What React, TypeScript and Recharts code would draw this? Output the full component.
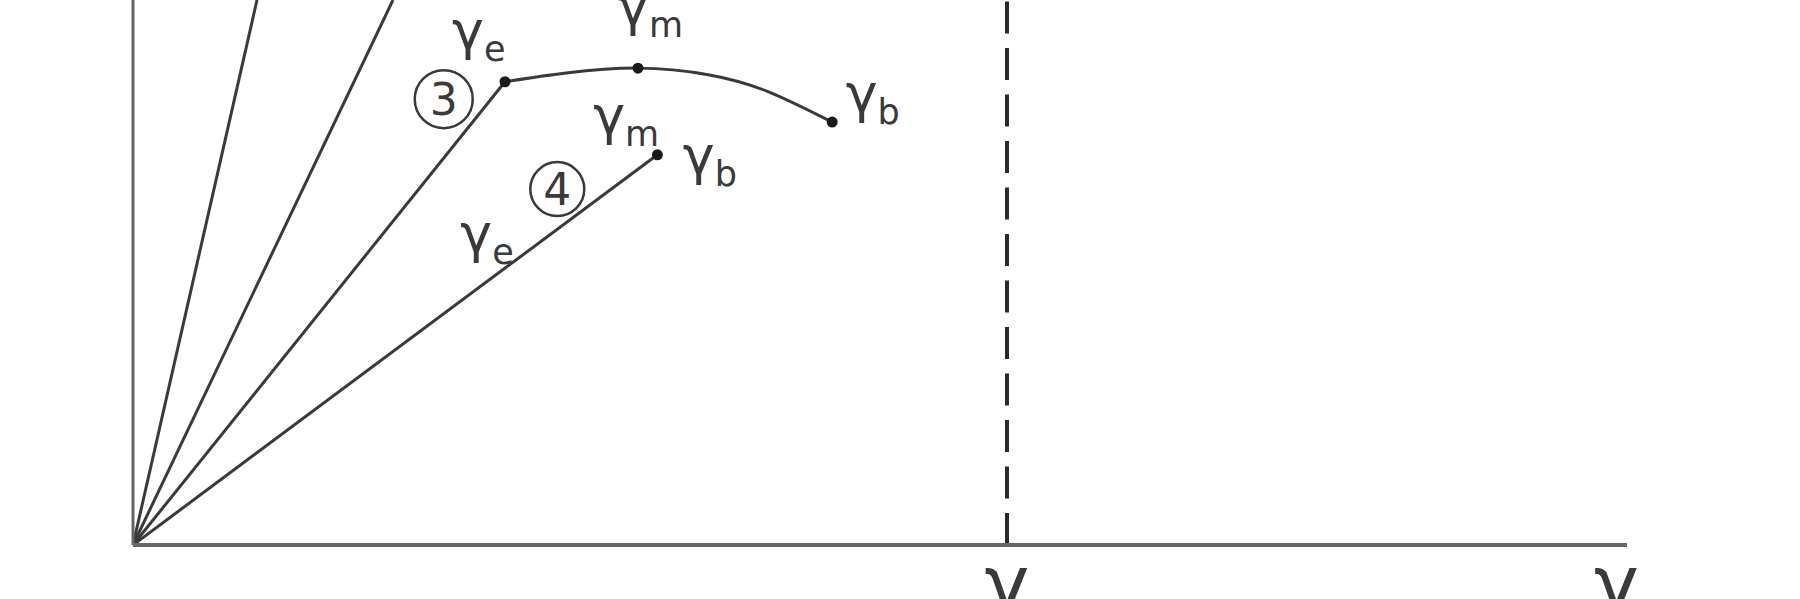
import { LineChart, Line, XAxis, YAxis, ReferenceLine, ReferenceDot } from "recharts";

// strain (x) vs stress (y), both in 0..100 plot units
const ray1 = [
  { x: 0, y: 0 },
  { x: 8.3, y: 100 },
];
const ray2 = [
  { x: 0, y: 0 },
  { x: 17.4, y: 100 },
];
const branch3 = [
  { x: 0, y: 0 },
  { x: 24.9, y: 85.0 },
];
const curve3 = [
  { x: 24.9, y: 85.0, point: "e" },
  { x: 29.0, y: 86.6 },
  { x: 33.8, y: 87.5, point: "m" },
  { x: 38.5, y: 86.3 },
  { x: 42.5, y: 83.2 },
  { x: 46.8, y: 77.6, point: "b" },
];
const branch4 = [
  { x: 0, y: 0 },
  { x: 35.1, y: 71.6, point: "b" },
];

const limitStrain = 58.5;
const axisTicks = [58.5, 99.3];
const axisTickLabels = ["γ", "γ"];

const gammaLabels = [
  { sub: "e", x: 21.35, y: 91.0 },
  { sub: "m", x: 32.4, y: 95.4 },
  { sub: "b", x: 47.7, y: 79.4 },
  { sub: "m", x: 30.8, y: 75.4 },
  { sub: "b", x: 36.8, y: 68.1 },
  { sub: "e", x: 21.9, y: 53.8 },
];
const circledLabels = [
  { n: "3", x: 20.8, y: 81.8, r: 29 },
  { n: "4", x: 28.4, y: 65.3, r: 27 },
];

const INK = "#3a3a3a";
const FONT = "'DejaVu Sans', sans-serif";

const renderDot = (p: any) =>
  p.payload && p.payload.point ? (
    <circle key={`dot-${p.index}`} cx={p.cx} cy={p.cy} r={5.5} fill="#1a1a1a" />
  ) : (
    <g key={`dot-${p.index}`} />
  );

function GammaText({ cx, cy, sub }: { cx: number; cy: number; sub: string }) {
  return (
    <text x={cx} y={cy} fontFamily={FONT} fontSize={54} fill={INK}>
      γ
      <tspan fontSize={35} dy={12}>
        {sub}
      </tspan>
    </text>
  );
}

function Circled({ cx, cy, n, r }: { cx: number; cy: number; n: string; r: number }) {
  return (
    <g>
      <circle cx={cx} cy={cy} r={r} fill="none" stroke={INK} strokeWidth={2.5} />
      <text
        x={cx}
        y={cy + 16}
        textAnchor="middle"
        fontFamily={FONT}
        fontSize={44}
        fill={INK}
      >
        {n}
      </text>
    </g>
  );
}

function AxisGamma(props: any) {
  const { x, y, index } = props;
  return (
    <text x={x} y={y + 57} textAnchor="middle" fontFamily={FONT} fontSize={76} fill={INK}>
      {axisTickLabels[index]}
    </text>
  );
}

export default function App() {
  return (
    <div style={{ position: "absolute", left: 0, top: 0, background: "#fff" }}>
      <LineChart width={1800} height={599} margin={{ top: 0, right: 173, bottom: 0, left: 0 }}>
        <XAxis
          type="number"
          dataKey="x"
          domain={[0, 100]}
          allowDataOverflow
          ticks={axisTicks}
          tick={<AxisGamma />}
          tickLine={false}
          height={54}
          axisLine={{ stroke: "#666", strokeWidth: 4 }}
        />
        <YAxis
          type="number"
          dataKey="y"
          domain={[0, 100]}
          allowDataOverflow
          tick={false}
          tickLine={false}
          width={133}
          axisLine={{ stroke: "#666", strokeWidth: 3 }}
        />
        <ReferenceLine x={limitStrain} stroke="#2a2a2a" strokeWidth={4} strokeDasharray="32 14.5" />
        <Line data={ray1} dataKey="y" type="linear" stroke={INK} strokeWidth={3} dot={false} isAnimationActive={false} />
        <Line data={ray2} dataKey="y" type="linear" stroke={INK} strokeWidth={3} dot={false} isAnimationActive={false} />
        <Line data={branch3} dataKey="y" type="linear" stroke={INK} strokeWidth={3} dot={false} isAnimationActive={false} />
        <Line data={curve3} dataKey="y" type="natural" stroke={INK} strokeWidth={3} dot={renderDot} isAnimationActive={false} />
        <Line data={branch4} dataKey="y" type="linear" stroke={INK} strokeWidth={3} dot={renderDot} isAnimationActive={false} />
        {gammaLabels.map((l, i) => (
          <ReferenceDot
            key={`g${i}`}
            x={l.x}
            y={l.y}
            r={0}
            shape={(p: any) => <GammaText cx={p.cx} cy={p.cy} sub={l.sub} />}
          />
        ))}
        {circledLabels.map((c, i) => (
          <ReferenceDot
            key={`c${i}`}
            x={c.x}
            y={c.y}
            r={0}
            shape={(p: any) => <Circled cx={p.cx} cy={p.cy} n={c.n} r={c.r} />}
          />
        ))}
      </LineChart>
    </div>
  );
}
